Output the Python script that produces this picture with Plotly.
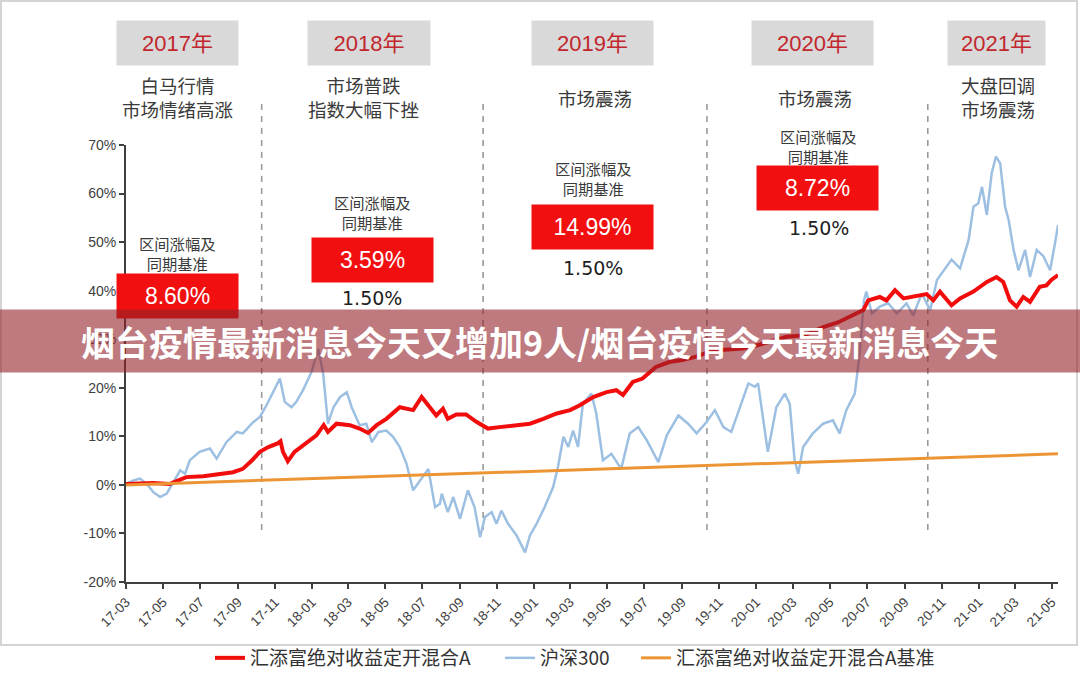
import plotly.graph_objects as go

# ---------------- data ----------------
fund_dates = ['2017-03-01', '2017-04-15', '2017-05-12', '2017-05-26', '2017-06-08', '2017-07-06', '2017-08-02',
              '2017-08-24', '2017-09-09', '2017-09-23', '2017-10-07', '2017-10-21', '2017-11-06', '2017-11-10',
              '2017-11-14', '2017-11-22', '2017-12-03', '2017-12-20', '2018-01-08', '2018-01-20', '2018-01-27',
              '2018-02-10', '2018-03-04', '2018-03-20', '2018-04-03', '2018-04-17', '2018-05-03', '2018-05-25',
              '2018-06-16', '2018-06-30', '2018-07-13', '2018-07-24', '2018-08-04', '2018-08-12', '2018-08-26',
              '2018-09-11', '2018-09-28', '2018-10-17', '2018-11-05', '2018-12-03', '2018-12-25', '2019-01-16',
              '2019-02-07', '2019-03-01', '2019-03-17', '2019-04-08', '2019-04-30', '2019-05-16', '2019-05-27',
              '2019-06-12', '2019-06-28', '2019-07-20', '2019-08-11', '2019-09-02', '2019-09-24', '2019-10-22',
              '2019-11-18', '2019-12-10', '2020-01-04', '2020-01-29', '2020-02-20', '2020-03-20', '2020-04-20',
              '2020-05-15', '2020-06-03', '2020-06-25', '2020-07-03', '2020-07-22', '2020-08-02', '2020-08-16',
              '2020-08-30', '2020-09-15', '2020-10-07', '2020-10-18', '2020-10-29', '2020-11-17', '2020-12-01',
              '2020-12-23', '2021-01-14', '2021-01-30', '2021-02-10', '2021-02-21', '2021-03-04', '2021-03-15',
              '2021-03-26', '2021-04-11', '2021-04-22', '2021-04-30', '2021-05-11']
fund_values = [0.2, 0.4, 0.2, 1.0, 1.6, 1.8, 2.2,
               2.6, 3.3, 4.9, 6.8, 7.8, 8.6, 9.0,
               6.8, 4.9, 6.8, 8.4, 10.2, 12.3, 10.9,
               12.6, 12.3, 11.6, 10.7, 12.3, 13.6, 16.0,
               15.4, 18.1, 16.0, 14.3, 15.7, 13.6, 14.5,
               14.5, 13.0, 11.6, 11.9, 12.3, 12.6, 13.6,
               14.7, 15.4, 16.4, 18.1, 19.1, 19.5, 18.5,
               21.2, 21.9, 24.3, 25.3, 25.7, 26.4, 27.7,
               27.9, 28.1, 28.8, 29.8, 30.5, 30.8, 32.5,
               33.5, 34.6, 36.0, 38.0, 38.7, 38.0, 40.1,
               38.4, 38.7, 39.3, 38.0, 39.8, 37.0, 38.4,
               39.8, 41.8, 42.8, 41.8, 38.0, 36.7, 38.7,
               37.7, 40.8, 41.1, 42.2, 43.2]

hs300_dates = ['2017-03-01', '2017-03-13', '2017-03-24', '2017-04-04', '2017-04-15', '2017-04-26', '2017-05-07',
               '2017-05-18', '2017-05-29', '2017-06-06', '2017-06-14', '2017-06-30', '2017-07-17', '2017-07-28',
               '2017-08-13', '2017-08-30', '2017-09-09', '2017-09-26', '2017-10-07', '2017-10-18', '2017-10-29',
               '2017-11-09', '2017-11-17', '2017-11-28', '2017-12-06', '2017-12-17', '2017-12-31', '2018-01-11',
               '2018-01-19', '2018-01-27', '2018-02-05', '2018-02-16', '2018-02-27', '2018-03-07', '2018-03-20',
               '2018-03-31', '2018-04-09', '2018-04-20', '2018-05-03', '2018-05-14', '2018-05-25', '2018-06-05',
               '2018-06-16', '2018-06-27', '2018-07-11', '2018-07-22', '2018-07-30', '2018-08-02', '2018-08-12',
               '2018-08-21', '2018-09-01', '2018-09-14', '2018-09-25', '2018-10-04', '2018-10-12', '2018-10-23',
               '2018-10-31', '2018-11-08', '2018-11-19', '2018-12-03', '2018-12-17', '2018-12-25', '2019-01-05',
               '2019-01-18', '2019-02-01', '2019-02-09', '2019-02-18', '2019-02-26', '2019-03-06', '2019-03-14',
               '2019-03-22', '2019-04-05', '2019-04-13', '2019-04-24', '2019-05-08', '2019-05-24', '2019-06-07',
               '2019-06-21', '2019-07-05', '2019-07-24', '2019-08-07', '2019-08-26', '2019-09-11', '2019-09-25',
               '2019-10-11', '2019-10-25', '2019-11-08', '2019-11-21', '2019-12-05', '2019-12-19', '2019-12-30',
               '2020-01-04', '2020-01-20', '2020-02-03', '2020-02-17', '2020-02-25', '2020-03-04', '2020-03-10',
               '2020-03-18', '2020-04-03', '2020-04-20', '2020-05-06', '2020-05-17', '2020-05-28', '2020-06-11',
               '2020-06-19', '2020-06-26', '2020-06-30', '2020-07-09', '2020-07-22', '2020-08-05', '2020-08-19',
               '2020-09-04', '2020-09-15', '2020-09-29', '2020-10-13', '2020-10-24', '2020-11-04', '2020-11-17',
               '2020-12-01', '2020-12-15', '2020-12-23', '2020-12-31', '2021-01-06', '2021-01-14', '2021-01-22',
               '2021-01-29', '2021-02-05', '2021-02-13', '2021-02-19', '2021-02-27', '2021-03-07', '2021-03-18',
               '2021-03-26', '2021-04-06', '2021-04-17', '2021-04-28', '2021-05-06', '2021-05-11']
hs300_values = [0.2, 0.9, 1.3, 0.2, -1.5, -2.5, -1.8,
                0.6, 3.0, 2.3, 5.1, 6.8, 7.5, 5.4,
                8.8, 10.9, 10.6, 12.9, 14.0, 16.4, 19.2,
                21.9, 17.1, 16.0, 17.1, 19.5, 23.3, 28.0,
                23.0, 12.6, 16.0, 18.1, 19.1, 16.0, 12.3,
                12.6, 8.8, 10.9, 11.2, 9.9, 7.8, 4.4,
                -1.1, 0.9, 3.3, -4.6, -3.9, -1.8, -5.6,
                -2.5, -7.0, -1.1, -4.6, -10.8, -6.6, -5.6,
                -8.0, -5.3, -8.0, -10.4, -13.9, -10.4, -8.0,
                -4.6, -0.5, 3.7, 9.9, 7.8, 11.2, 7.8,
                16.7, 18.8, 14.7, 5.1, 6.4, 3.3, 10.6,
                11.9, 9.2, 4.7, 10.2, 14.3, 12.6, 10.6,
                12.9, 15.4, 11.9, 10.9, 15.7, 20.9, 20.2,
                20.9, 6.8, 16.0, 18.8, 16.7, 5.1, 2.3,
                7.8, 10.6, 12.6, 13.3, 10.6, 15.4, 18.8,
                27.1, 38.0, 39.8, 35.3, 36.7, 37.4, 35.3,
                37.4, 34.9, 39.4, 36.0, 42.2, 44.2, 46.4,
                44.6, 50.4, 57.3, 58.0, 61.4, 55.6, 64.2,
                67.6, 66.2, 57.3, 54.5, 48.4, 44.2, 48.4,
                42.8, 48.4, 47.1, 44.2, 49.7, 53.5]

bench_dates = ['2017-03-01', '2018-03-01', '2019-03-01', '2020-03-01', '2021-03-01', '2021-05-11']
bench_values = [0.0, 1.53, 3.05, 4.6, 6.1, 6.4]

tick_dates = ['2017-03-01', '2017-05-01', '2017-07-01', '2017-09-01', '2017-11-01', '2018-01-01', '2018-03-01',
              '2018-05-01', '2018-07-01', '2018-09-01', '2018-11-01', '2019-01-01', '2019-03-01', '2019-05-01',
              '2019-07-01', '2019-09-01', '2019-11-01', '2020-01-01', '2020-03-01', '2020-05-01', '2020-07-01',
              '2020-09-01', '2020-11-01', '2021-01-01', '2021-03-01', '2021-05-01']
tick_labels = ['17-03', '17-05', '17-07', '17-09', '17-11', '18-01', '18-03', '18-05', '18-07', '18-09',
               '18-11', '19-01', '19-03', '19-05', '19-07', '19-09', '19-11', '20-01', '20-03', '20-05',
               '20-07', '20-09', '20-11', '21-01', '21-03', '21-05']
y_ticks = [-20, -10, 0, 10, 20, 30, 40, 50, 60, 70]
y_tick_labels = ['-20%', '-10%', '0%', '10%', '20%', '30%', '40%', '50%', '60%', '70%']

series_names = ['汇添富绝对收益定开混合A', '沪深300', '汇添富绝对收益定开混合A基准']
year_titles = ['2017年', '2018年', '2019年', '2020年', '2021年']
year_notes = ['白马行情<br>市场情绪高涨', '市场普跌<br>指数大幅下挫', '市场震荡', '市场震荡', '大盘回调<br>市场震荡']
period_returns = ['8.60%', '3.59%', '14.99%', '8.72%']
period_bench = ['1.50%', '1.50%', '1.50%']   # the first period's benchmark sits hidden under the banner
period_label = '区间涨幅及<br>同期基准'
divider_dates = ['2017-10-10', '2018-10-09', '2019-10-12', '2020-10-09']
banner_text = '烟台疫情最新消息今天又增加9人/烟台疫情今天最新消息今天'

# ---------------- layout helpers ----------------
W_IMG, H_IMG = 1080, 682
L, R, T, B = 126, 1058, 145, 582
PW, PH = R - L, B - T


def px(x):
    return (x - L) / PW


def py(y):
    return (B - y) / PH


CJK = 'Noto Sans CJK SC, sans-serif'
SANS = 'Liberation Sans, Arial, Noto Sans CJK SC, sans-serif'

fig = go.Figure()
fig.add_trace(go.Scatter(x=hs300_dates, y=hs300_values, mode='lines', name=series_names[1],
                         line=dict(color='#9dc0e2', width=2.5), legend='legend2'))
fig.add_trace(go.Scatter(x=fund_dates, y=fund_values, mode='lines', name=series_names[0],
                         line=dict(color='#f20d0d', width=4), legend='legend'))
fig.add_trace(go.Scatter(x=bench_dates, y=bench_values, mode='lines', name=series_names[2],
                         line=dict(color='#ec9535', width=3), legend='legend3'))

shapes = []
# outer frame
shapes.append(dict(type='rect', xref='paper', yref='paper', x0=px(1), x1=px(1077), y0=py(645), y1=py(1),
                   line=dict(color='#d4d4d4', width=2), fillcolor='rgba(0,0,0,0)', layer='below'))
# dashed dividers
for d in divider_dates:
    shapes.append(dict(type='line', xref='x', yref='paper', x0=d, x1=d, y0=py(530), y1=py(100),
                       line=dict(color='#9a9a9a', width=1.6, dash='6px,6px'), layer='below'))

annotations = []
header_boxes = [(177.5, 121), (369, 122), (592.5, 121), (812.5, 121), (996.5, 97)]
note_pos = [(177, 97.5), (363, 97.5), (595, 98), (815, 98), (998, 97.5)]
for (cx, w), title in zip(header_boxes, year_titles):
    annotations.append(dict(xref='paper', yref='paper', x=px(cx), y=py(43), xanchor='center', yanchor='middle',
                            text=title, showarrow=False, bgcolor='#d9d9d9', width=w, height=44, borderpad=0,
                            font=dict(family=SANS, size=22, color='#c1272d')))
for (cx, cy), note in zip(note_pos, year_notes):
    annotations.append(dict(xref='paper', yref='paper', x=px(cx), y=py(cy), xanchor='center', yanchor='middle',
                            text=note, showarrow=False, borderpad=0,
                            font=dict(family=CJK, size=18.5, color='#3a3a3a')))

red_boxes = [(177.5, 296), (372.5, 260), (592.5, 226.5), (817.5, 188.5)]
label_pos = [(177, 252.5), (372, 212), (593, 177.5), (818, 145.5)]
bench_pos = [(372, 298), (593, 268), (819, 228)]
for (cx, cy), txt in zip(red_boxes, period_returns):
    annotations.append(dict(xref='paper', yref='paper', x=px(cx), y=py(cy), xanchor='center', yanchor='middle',
                            text=txt, showarrow=False, bgcolor='#f20f0f', width=121, height=44, borderpad=0,
                            font=dict(family=SANS, size=23, color='#ffffff')))
for cx, cy in label_pos:
    annotations.append(dict(xref='paper', yref='paper', x=px(cx), y=py(cy), xanchor='center', yanchor='middle',
                            text=period_label, showarrow=False, borderpad=0,
                            font=dict(family=CJK, size=15.3, color='#3a3a3a')))
for (cx, cy), txt in zip(bench_pos, period_bench):
    annotations.append(dict(xref='paper', yref='paper', x=px(cx), y=py(cy), xanchor='center', yanchor='middle',
                            text=txt, showarrow=False, borderpad=0,
                            font=dict(family='DejaVu Sans, sans-serif', size=19, color='#1e1e1e')))
# banner
annotations.append(dict(xref='paper', yref='paper', x=px(540), y=py(341), xanchor='center', yanchor='middle',
                        text=' ', showarrow=False, bgcolor='rgba(146,34,40,0.6)', width=1084, height=62,
                        borderpad=0, font=dict(size=10)))
annotations.append(dict(xref='paper', yref='paper', x=px(79), y=py(341), xanchor='left', yanchor='middle',
                        text='<b>' + banner_text + '</b>', showarrow=False,
                        font=dict(family=CJK, size=34, color='#ffffff')))

legend_common = dict(orientation='h', yanchor='middle', xanchor='left', bgcolor='rgba(0,0,0,0)',
                     font=dict(family=CJK, size=19, color='#333333'))

fig.update_layout(
    width=W_IMG, height=H_IMG,
    margin=dict(l=L, r=W_IMG - R, t=T, b=H_IMG - B, autoexpand=False),
    paper_bgcolor='white', plot_bgcolor='white',
    showlegend=True,
    legend=dict(x=px(210), y=py(658), **legend_common),
    legend2=dict(x=px(500), y=py(658), **legend_common),
    legend3=dict(x=px(636), y=py(658), **legend_common),
    xaxis=dict(type='date', range=['2017-03-01', '2021-05-11'], tickvals=tick_dates, ticktext=tick_labels,
               tickangle=-45, showline=True, linecolor='#404040', linewidth=2, ticks='outside', ticklen=5,
               tickwidth=2, tickcolor='#404040', showgrid=False, zeroline=False,
               tickfont=dict(family=SANS, size=13.5, color='#404040')),
    yaxis=dict(range=[-20, 70], tickvals=y_ticks, ticktext=y_tick_labels, showline=True, linecolor='#404040',
               linewidth=2, ticks='outside', ticklen=5, tickwidth=2, tickcolor='#404040', showgrid=False,
               zeroline=False, tickfont=dict(family=SANS, size=14, color='#404040')),
    shapes=shapes,
    annotations=annotations,
)

fig.write_html('out.html')
